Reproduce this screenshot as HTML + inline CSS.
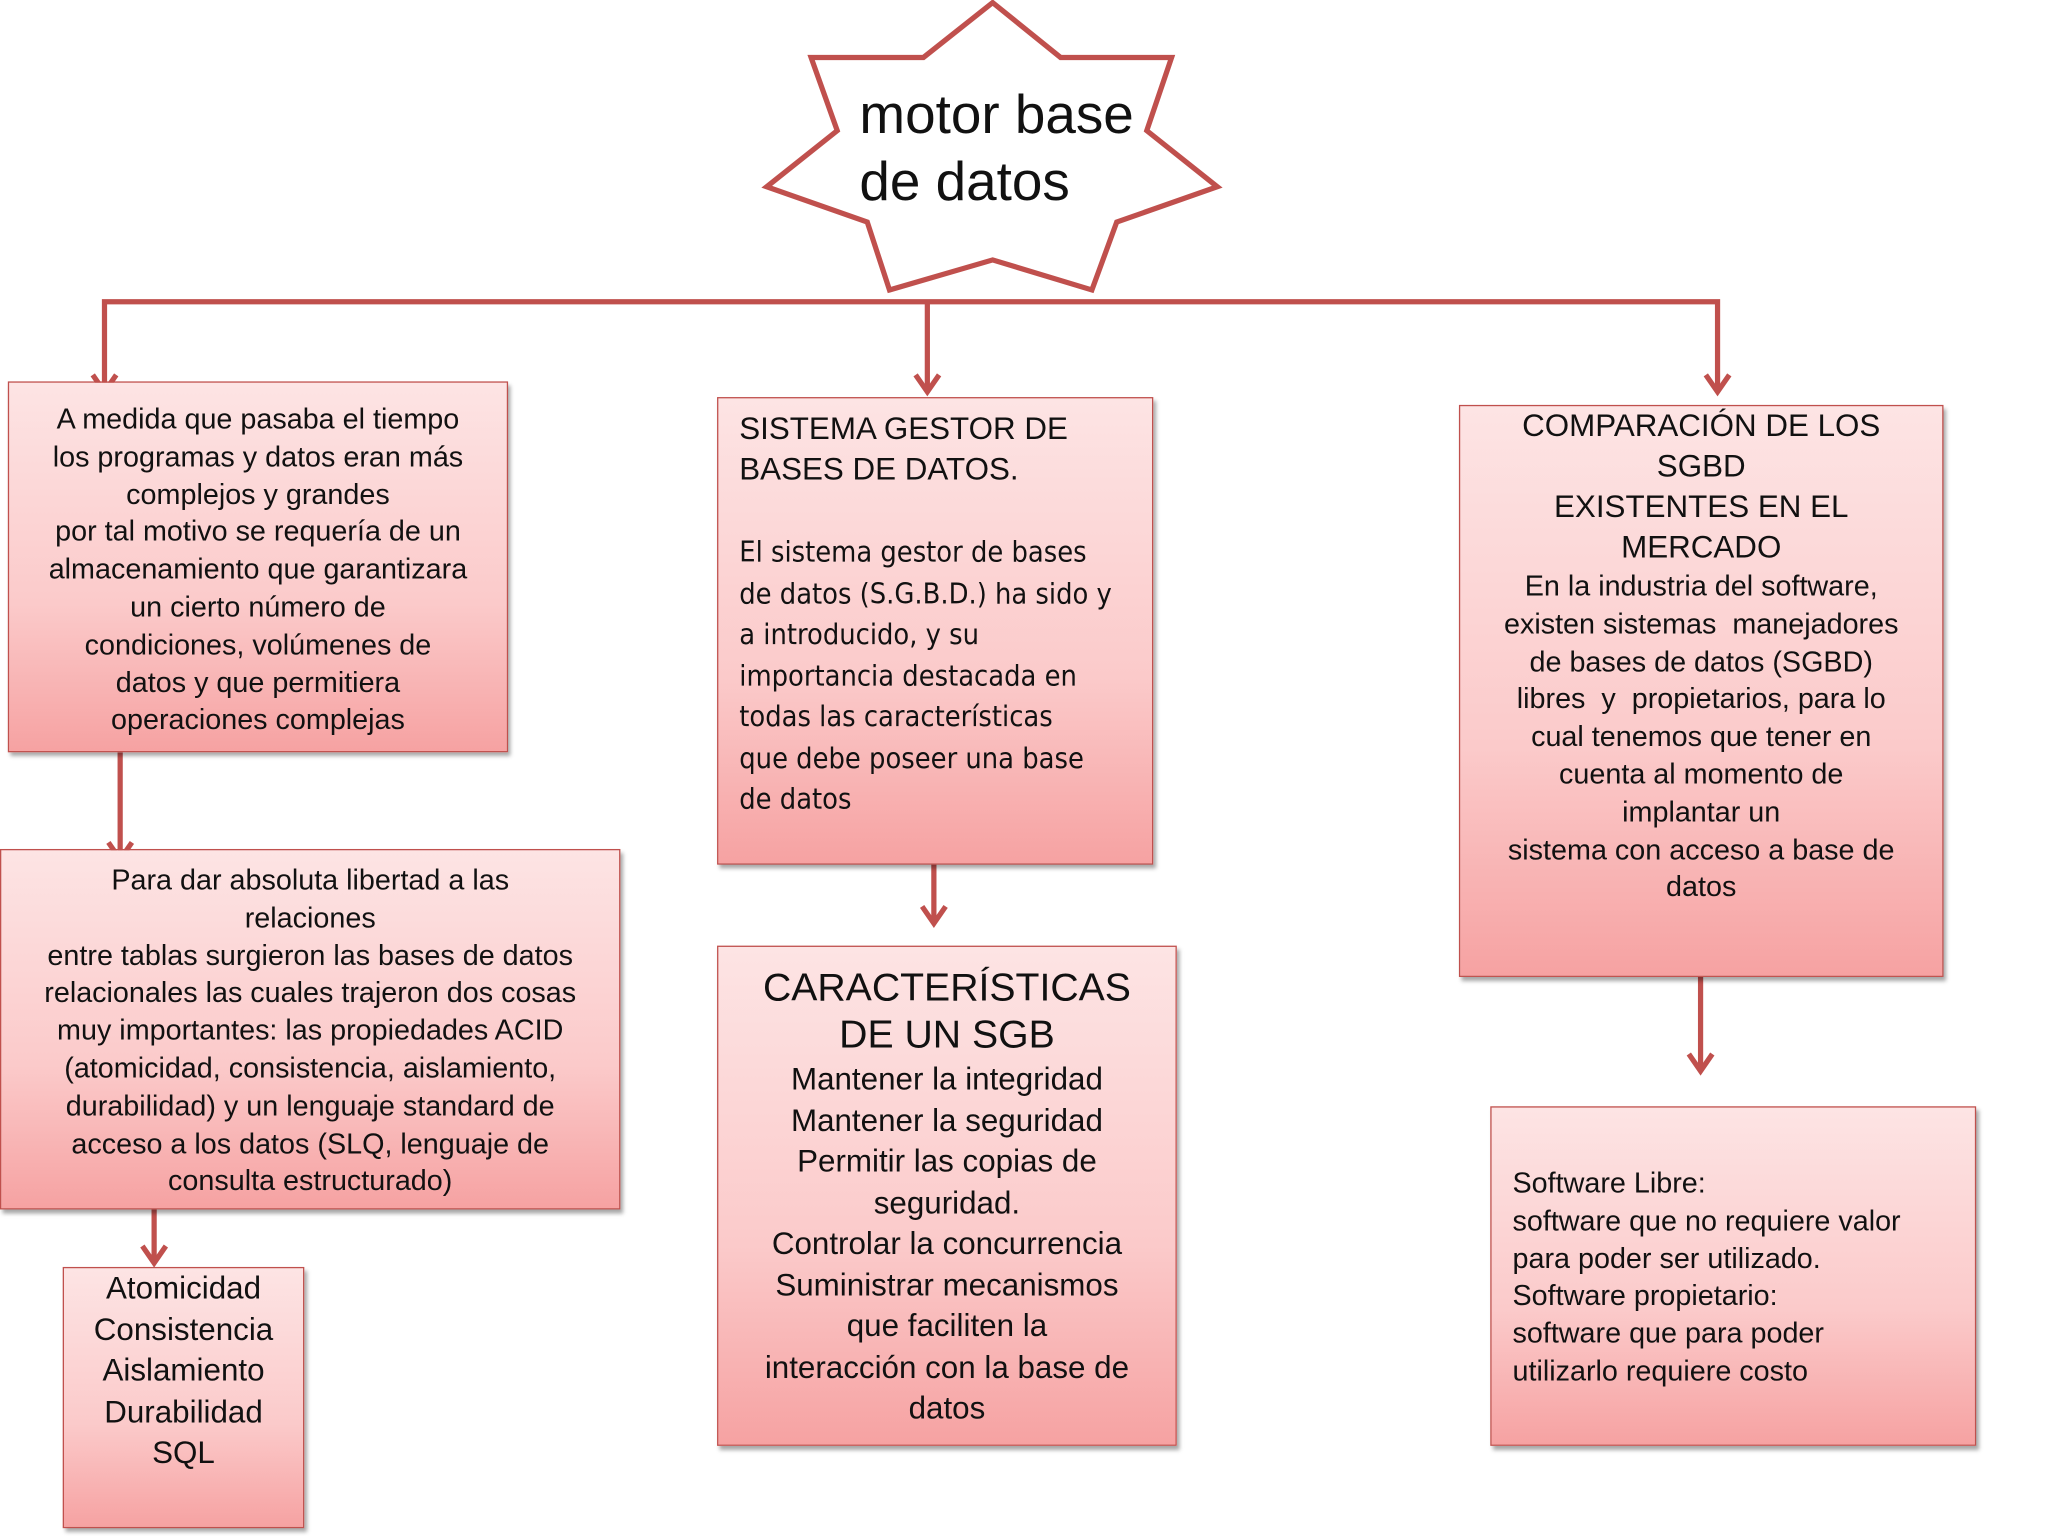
<!DOCTYPE html>
<html><head><meta charset="utf-8"><style>
html,body{margin:0;padding:0;background:#fff;width:2048px;height:1536px;overflow:hidden}
#c{position:absolute;left:0;top:0;width:1568px;height:1176px;transform:scale(1.30612);transform-origin:0 0;font-family:"Liberation Sans",sans-serif;color:#111}
.b{position:absolute;box-sizing:border-box;border:1.5px solid #c0504d;background:linear-gradient(#fde4e4,#fbcaca 60%,#f6a2a2);box-shadow:2px 3px 3px rgba(0,0,0,.35);text-align:center}
.t{position:absolute;left:0;right:0;white-space:nowrap}
svg{position:absolute;left:0;top:0}
</style></head><body><div id="c">
<svg width="1568" height="1176" viewBox="0 0 1568 1176">
<polygon points="760,2 812,44 897,44 878,100 932,143 855,170 836,222 760,199 681,222 664,170 587,143 641,100 621,44 707,44" fill="#fff" stroke="#c0504d" stroke-width="4" stroke-linejoin="miter"/>
<g stroke="#c0504d" stroke-width="4" fill="none">
<polyline points="80,300 80,231 1315,231 1315,300"/>
<line x1="710" y1="231" x2="710" y2="300"/>
<line x1="92" y1="576" x2="92" y2="658"/>
<line x1="715" y1="662" x2="715" y2="707"/>
<line x1="1302" y1="748" x2="1302" y2="820"/>
<line x1="118" y1="926" x2="118" y2="967"/>
<polyline points="71,287 80,300 89,287"/>
<polyline points="701,287 710,300 719,287"/>
<polyline points="1306,287 1315,300 1324,287"/>
<polyline points="83,645 92,658 101,645"/>
<polyline points="706,694 715,707 724,694"/>
<polyline points="1293,807 1302,820 1311,807"/>
<polyline points="109,954 118,967 127,954"/>
</g>
<text x="658" y="102" font-family="Liberation Sans,sans-serif" font-size="42" fill="#111">motor base</text>
<text x="658" y="153" font-family="Liberation Sans,sans-serif" font-size="42" fill="#111">de datos</text>
</svg>

<div class="b" style="left:6px;top:292px;width:383px;height:284px;font-size:22px;line-height:28.8px;padding-top:14px">A medida que pasaba el tiempo<br>los programas y datos eran más<br>complejos y grandes<br>por tal motivo se requería de un<br>almacenamiento que garantizara<br>un cierto número de<br>condiciones, volúmenes de<br>datos y que permitiera<br>operaciones complejas</div>

<div class="b" style="left:0;top:650px;width:475px;height:276px;font-size:22px;line-height:28.8px;padding-top:9px">Para dar absoluta libertad a las<br>relaciones<br>entre tablas surgieron las bases de datos<br>relacionales las cuales trajeron dos cosas<br>muy importantes: las propiedades ACID<br>(atomicidad, consistencia, aislamiento,<br>durabilidad) y un lenguaje standard de<br>acceso a los datos (SLQ, lenguaje de<br>consulta estructurado)</div>

<div class="b" style="left:48px;top:970px;width:185px;height:200px;font-size:24px;line-height:31.5px;padding-top:0px">Atomicidad<br>Consistencia<br>Aislamiento<br>Durabilidad<br>SQL</div>

<div class="b" style="left:549px;top:304px;width:334px;height:358px;text-align:left;padding-left:16px;padding-top:8px">
<div style="font-size:24px;line-height:31px">SISTEMA GESTOR DE<br>BASES DE DATOS.</div>
<div style="font-size:22px;line-height:31.5px;margin-top:33px;font-family:'DejaVu Sans Condensed','Liberation Sans',sans-serif">El sistema gestor de bases<br>de datos (S.G.B.D.) ha sido y<br>a introducido, y su<br>importancia destacada en<br>todas las características<br>que debe poseer una base<br>de datos</div></div>

<div class="b" style="left:549px;top:724px;width:352px;height:383px;padding-top:14px">
<div style="font-size:30px;line-height:36px">CARACTERÍSTICAS<br>DE UN SGB</div>
<div style="font-size:24px;line-height:31.5px">Mantener la integridad<br>Mantener la seguridad<br>Permitir las copias de<br>seguridad.<br>Controlar la concurrencia<br>Suministrar mecanismos<br>que faciliten la<br>interacción con la base de<br>datos</div></div>

<div class="b" style="left:1117px;top:310px;width:371px;height:438px;padding-top:0">
<div style="font-size:24px;line-height:31px">COMPARACIÓN DE LOS<br>SGBD<br>EXISTENTES EN EL<br>MERCADO</div>
<div style="font-size:22px;line-height:28.8px">En la industria del software,<br>existen sistemas&nbsp; manejadores<br>de bases de datos (SGBD)<br>libres&nbsp; y&nbsp; propietarios, para lo<br>cual tenemos que tener en<br>cuenta al momento de<br>implantar un<br>sistema con acceso a base de<br>datos</div></div>

<div class="b" style="left:1141px;top:847px;width:372px;height:260px;text-align:left;padding-left:16px;padding-top:44px;font-size:22px;line-height:28.8px">Software Libre:<br>software que no requiere valor<br>para poder ser utilizado.<br>Software propietario:<br>software que para poder<br>utilizarlo requiere costo</div>
</div></body></html>
